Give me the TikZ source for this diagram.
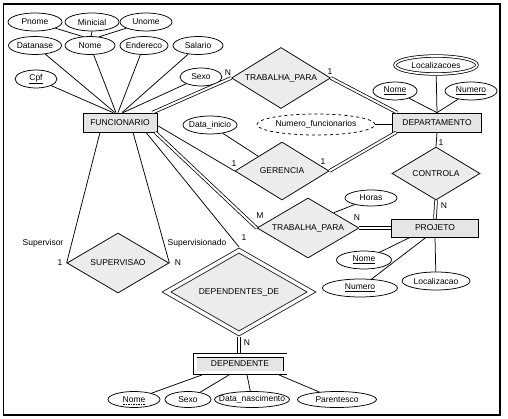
\documentclass[tikz,border=0pt]{standalone}
\usepackage{fontspec}
\setmainfont{Liberation Sans}
\usetikzlibrary{shapes.geometric}
\newcommand{\etxt}[1]{\makebox[0pt]{#1}}

\begin{document}
\begin{tikzpicture}[x=1pt,y=1pt,line width=0.75pt]
\tikzstyle{every node}+=[inner sep=0pt,font=\fontsize{8.5}{10}\selectfont]
\tikzstyle{attr}=[draw,ellipse,fill=white,minimum height=18pt]
\tikzstyle{entity}=[draw,rectangle,fill=gray!20,minimum height=19pt]
\tikzstyle{rel}=[draw,diamond,fill=gray!15,aspect=1.7]
\tikzstyle{totalline}=[double,double distance=2pt]
\useasboundingbox (0,0) rectangle (508,-419);
\draw [line width=1.2pt] (3.5,-4) rectangle (500,-415);
\node [attr,minimum width=54pt] (pnome) at (35,-22) {\etxt{Pnome}};
\node [attr,minimum width=54pt] (minicial) at (92,-22) {\etxt{Minicial}};
\node [attr,minimum width=52pt] (unome) at (146,-22) {\etxt{Unome}};
\node [attr,minimum width=53pt] (datanase) at (35,-45.5) {\etxt{Datanase}};
\node [attr,minimum width=50pt] (nomef) at (90,-45.5) {\etxt{Nome}};
\node [attr,minimum width=48pt] (endereco) at (144,-45.5) {\etxt{Endereco}};
\node [attr,minimum width=50pt] (salario) at (198,-45.5) {\etxt{Salario}};
\node [attr,minimum width=42pt] (cpf) at (36,-79) {\etxt{\underline{Cpf}}};
\node [attr,minimum width=42pt] (sexo) at (201,-77) {\etxt{Sexo}};
\node [entity,minimum width=74pt] (func) at (120,-122.5) {FUNCIONARIO};
\node [rel,minimum width=99pt,minimum height=61pt] (trab1) at (281,-78) {TRABALHA\_PARA};
\node [attr,double,double distance=1.8pt,outer sep=1.6pt,minimum width=82pt] (locs) at (436,-65) {\etxt{Localizacoes}};
\node [attr,minimum width=44pt] (nomed) at (395,-91) {\etxt{\underline{Nome}}};
\node [attr,minimum width=52pt] (numerod) at (471,-91) {\etxt{\underline{Numero}}};
\node [entity,minimum width=89pt] (dept) at (437,-122.5) {DEPARTAMENTO};
\node [attr,minimum width=54pt] (dtini) at (210,-125) {\etxt{Data\_inicio}};
\node [attr,dashed,minimum width=118pt,minimum height=21pt] (numfunc) at (316,-124.5) {\etxt{Numero\_funcionarios}};
\node [rel,minimum width=94pt,minimum height=58pt] (ger) at (282,-171) {GERENCIA};
\node [rel,minimum width=88pt,minimum height=53pt] (contr) at (436,-173.5) {CONTROLA};
\node [rel,minimum width=102pt,minimum height=60pt] (trab2) at (308,-228) {TRABALHA\_PARA};
\node [attr,minimum width=52pt,minimum height=16pt] (horas) at (371,-198) {\etxt{Horas}};
\node [entity,minimum width=87pt,minimum height=18pt] (proj) at (435,-228) {PROJETO};
\node [attr,minimum width=55pt] (nomep) at (364,-260) {\etxt{\underline{Nome}}};
\node [attr,minimum width=75pt] (numerop) at (360,-288) {\etxt{\underline{Numero}}};
\node [attr,minimum width=68pt] (localiz) at (436,-281) {\etxt{Localizacao}};
\node [rel,minimum width=102pt,minimum height=60pt] (superv) at (118,-263) {SUPERVISAO};
\node [rel,double,double distance=3.5pt,outer sep=2.5pt,minimum width=147pt,minimum height=85pt] (depde) at (239,-292) {DEPENDENTES\_DE};
\node [entity,double,double distance=3pt,outer sep=2.2pt,minimum width=90pt,minimum height=17.5pt] (dep) at (240,-364) {DEPENDENTE};
\node [attr,minimum width=52pt,minimum height=16pt] (nomedep) at (134,-399.5) {\etxt{Nome}};
\draw [dashed,dash pattern=on 1.5pt off 1pt,line width=0.4pt] ([xshift=-11pt,yshift=-4.5pt]nomedep.center) -- ([xshift=11pt,yshift=-4.5pt]nomedep.center);
\node [attr,minimum width=46pt,minimum height=16pt] (sexodep) at (188,-399.5) {\etxt{Sexo}};
\node [attr,minimum width=75pt,minimum height=16pt] (dtnasc) at (252,-399.5) {\etxt{Data\_nascimento}};
\node [attr,minimum width=79pt,minimum height=16pt] (parent) at (337,-399.5) {\etxt{Parentesco}};
\draw (pnome) -- ([xshift=-7pt,yshift=-0.5pt]nomef.north);
\draw (minicial.south) -- ([xshift=1pt]nomef.north);
\draw (unome) -- ([xshift=9pt,yshift=-0.7pt]nomef.north);
\draw (cpf) -- ([xshift=-7pt]func.north);
\draw (datanase) -- ([xshift=-5pt]func.north);
\draw (nomef) -- ([xshift=-4pt]func.north);
\draw (endereco) -- ([xshift=-2pt]func.north);
\draw (salario) -- ([xshift=2pt]func.north);
\draw (sexo) -- ([xshift=3pt]func.north);
\draw [totalline] ([xshift=-5pt]func.north east) -- (trab1.west);
\draw [totalline] (trab1.east) -- ([xshift=5pt]dept.north west);
\draw ([yshift=-3pt]func.east) -- (ger.west);
\draw [totalline] (ger.east) -- ([xshift=4pt]dept.south west);
\draw (dtini) -- (ger.north west);
\draw (numfunc.east) -- (numfunc.east -| dept.west);
\draw (locs) -- (dept.north);
\draw (nomed) -- (dept.north);
\draw (numerod) -- (dept.north);
\draw (dept.south) -- (contr.north);
\draw [totalline] (contr.south) -- (proj.north);
\draw [totalline] ([xshift=-2pt]func.south east) -- (trab2.west);
\draw [totalline] (trab2.east) -- (proj.west);
\draw (horas) -- (trab2.north east);
\draw ([xshift=-25pt]proj.south) -- (nomep);
\draw ([xshift=-9pt]proj.south) -- (numerop);
\draw (proj.south) -- (localiz);
\draw ([xshift=-20pt]func.south) -- (superv.west);
\draw ([xshift=13pt]func.south) -- (superv.east);
\draw ([xshift=26pt]func.south) -- (depde.north);
\draw [totalline] (depde.south) -- (depde.south |- dep.north);
\draw ([xshift=-38pt]dep.south) -- (nomedep);
\draw ([xshift=-11pt]dep.south) -- (sexodep);
\draw ([xshift=7pt]dep.south) -- (dtnasc);
\draw ([xshift=39pt]dep.south) -- (parent);
\node (ctrab1a) at (228,-73) {N};
\node (ctrab1b) at (330,-72) {1};
\node (cgera) at (234,-164) {1};
\node (cgerb) at (323,-162) {1};
\node (ccontra) at (441,-143) {1};
\node (ccontrb) at (444,-206) {N};
\node (ctrab2a) at (260,-216) {M};
\node (ctrab2b) at (357,-218) {N};
\node (csupa) at (60,-263) {1};
\node (csupb) at (178,-263) {N};
\node (rsupa) at (43,-243) {Supervisor};
\node (rsupb) at (197,-243) {Supervisionado};
\node (cdepa) at (244,-238) {1};
\node (cdepb) at (247,-343) {N};
\end{tikzpicture}
\end{document}
